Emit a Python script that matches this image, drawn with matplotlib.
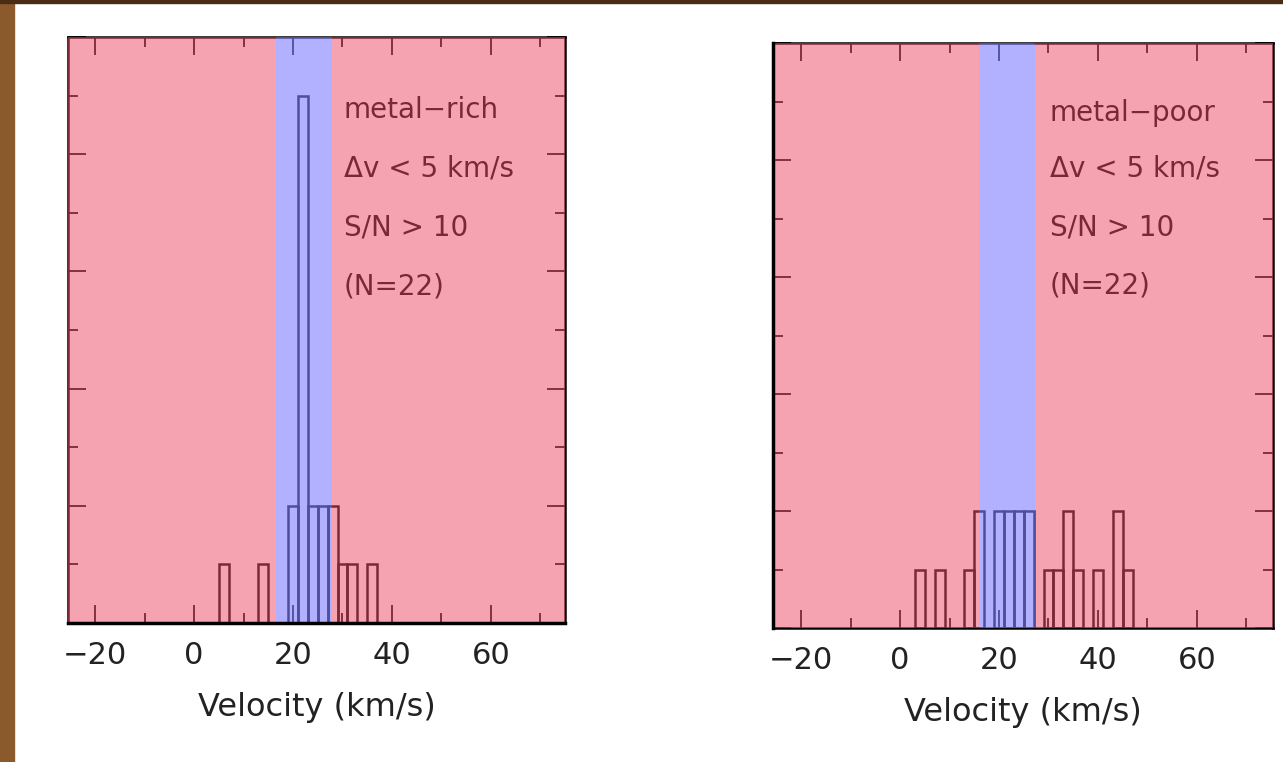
import matplotlib
matplotlib.use("Agg")
import matplotlib.pyplot as plt
from matplotlib.patches import Rectangle
from matplotlib.ticker import MultipleLocator

# histogram bins (2 km/s wide, centred on even velocities)
rich_centers = [6, 14, 20, 22, 24, 26, 28, 30, 32, 36]
rich_counts = [1, 1, 2, 9, 2, 2, 2, 1, 1, 1]
poor_centers = [4, 8, 14, 16, 20, 22, 24, 26, 30, 32, 34, 36, 40, 44, 46]
poor_counts = [1, 1, 1, 2, 2, 2, 2, 2, 1, 1, 2, 1, 1, 2, 1]

rich_band = (16.5, 27.8)
poor_band = (16.0, 27.3)

rich_text = ["metal\u2212rich", "\u0394v < 5 km/s", "S/N > 10", "(N=22)"]
poor_text = ["metal\u2212poor", "\u0394v < 5 km/s", "S/N > 10", "(N=22)"]

tick_vals = [-20, 0, 20, 40, 60]
tick_labels = ["\u221220", "0", "20", "40", "60"]

pink = (0.93, 0.30, 0.42)
blue = (0.50, 0.50, 1.00)
maroon = "#7a2838"

fig = plt.figure(figsize=(12.83, 7.62), dpi=100)
fig.patch.set_facecolor("white")

# slide frame on the left / top edge
fig.patches.append(Rectangle((0, 0), 14 / 1283, 1, transform=fig.transFigure,
                             color="#8a5a2c", zorder=0))
fig.patches.append(Rectangle((0, 1 - 3 / 762), 1, 3 / 762, transform=fig.transFigure,
                             color="#4a2c14", zorder=0))


def panel(rect, centers, counts, band, xlim, lines, text_y, black_spine):
    ax = fig.add_axes(rect)
    ax.set_facecolor("white")
    ax.bar(centers, counts, width=2, fill=False, edgecolor="black",
           linewidth=1.8, zorder=1)
    ax.set_xlim(*xlim)
    ax.set_ylim(0, 10)
    # tinted overlays on top of the histogram
    ax.axvspan(xlim[0], band[0], color=pink, alpha=0.52, lw=0, zorder=2)
    ax.axvspan(band[1], xlim[1], color=pink, alpha=0.52, lw=0, zorder=2)
    ax.axvspan(band[0], band[1], color=blue, alpha=0.61, lw=0, zorder=2)

    ax.set_axisbelow(True)
    ax.xaxis.set_major_locator(MultipleLocator(20))
    ax.xaxis.set_minor_locator(MultipleLocator(10))
    ax.yaxis.set_major_locator(MultipleLocator(2))
    ax.yaxis.set_minor_locator(MultipleLocator(1))
    ax.set_xticks(tick_vals)
    ax.set_xticklabels(tick_labels)
    ax.tick_params(which="both", direction="in", top=True, right=True,
                   color="black", width=1.3)
    ax.tick_params(which="major", length=13)
    ax.tick_params(which="minor", length=7)
    ax.tick_params(axis="x", labelsize=22, labelcolor="#222222", pad=13)
    ax.tick_params(axis="y", labelleft=False)
    for name, sp in ax.spines.items():
        sp.set_linewidth(1.8)
        sp.set_zorder(1)
    ax.spines[black_spine].set_zorder(3)
    ax.spines[black_spine].set_linewidth(2.5)

    ax.set_xlabel("Velocity (km/s)", fontsize=23, color="#222222", labelpad=16)
    for s, y in zip(lines, text_y):
        ax.text(30.3, y, s, fontsize=20, color=maroon, va="center", ha="left", zorder=4)
    return ax


panel([68 / 1283, 1 - 623 / 762, 497 / 1283, 586 / 762],
      rich_centers, rich_counts, rich_band, (-25.5, 75.0),
      rich_text, [8.75, 7.75, 6.75, 5.75], "bottom")
panel([773 / 1283, 1 - 628 / 762, 500 / 1283, 585 / 762],
      poor_centers, poor_counts, poor_band, (-25.7, 75.4),
      poor_text, [8.8, 7.85, 6.85, 5.85], "left")

fig.savefig("out.png", dpi=100)
